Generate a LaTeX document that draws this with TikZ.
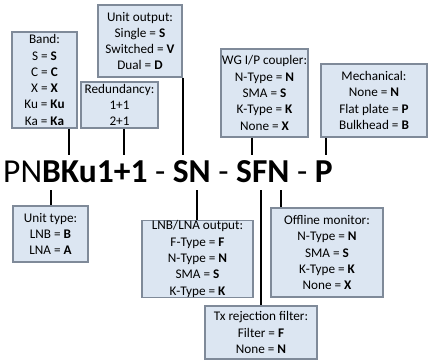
\documentclass[tikz,border=0pt]{standalone}
\usepackage{fontspec}
\setmainfont{Carlito}
\usetikzlibrary{positioning}
\definecolor{boxfill}{HTML}{DCE6F2}
\definecolor{boxline}{HTML}{7F8A99}

\begin{document}
\begin{tikzpicture}[
    x=1pt, y=-1pt,
    opt/.style={
        draw=boxline, fill=boxfill, line width=1.3pt, align=center, inner sep=0pt,
        font=\fontsize{13.2}{16.3}\selectfont
    },
    lead/.style={
        line width=2.4pt
    },
    code/.style={
        anchor=base west, inner sep=0pt, font=\fontsize{33.5}{36}\selectfont
    }
]
    \useasboundingbox (0,0) rectangle (428,361);

    % part number
    \node[code](pn) at (3,182){PN\textbf{BKu1+1} - \textbf{SN} - \textbf{SFN} - \textbf{P}};

    % option boxes above
    \node[opt,minimum width=65pt,minimum height=96pt](band) at (44.5,80){
        Band:\\ S = \textbf{S}\\ C = \textbf{C}\\ X = \textbf{X}\\ Ku = \textbf{Ku}\\ Ka = \textbf{Ka}};
    \node[opt,minimum width=77pt,minimum height=46pt](red) at (119.5,105){
        Redundancy:\\ 1+1\\ 2+1};
    \node[opt,minimum width=84pt,minimum height=72pt](uout) at (140,41){
        Unit output:\\ Single = \textbf{S}\\ Switched = \textbf{V}\\ Dual = \textbf{D}};
    \node[opt,minimum width=87pt,minimum height=88pt](wg) at (264.5,93){
        WG I/P coupler:\\ N-Type = \textbf{N}\\ SMA = \textbf{S}\\ K-Type = \textbf{K}\\ None = \textbf{X}};
    \node[opt,minimum width=106pt,minimum height=73pt](mech) at (374,100.5){
        Mechanical:\\ None = \textbf{N}\\ Flat plate = \textbf{P}\\ Bulkhead = \textbf{B}};

    % option boxes below
    \node[opt,minimum width=75pt,minimum height=56pt](utype) at (50.5,234){
        Unit type:\\ LNB = \textbf{B}\\ LNA = \textbf{A}};
    \node[opt,minimum width=111pt,minimum height=76pt](lnb) at (197.5,259){
        LNB/LNA output:\\ F-Type = \textbf{F}\\ N-Type = \textbf{N}\\ SMA = \textbf{S}\\ K-Type = \textbf{K}};
    \node[opt,minimum width=112pt,minimum height=89pt](offl) at (327,252.5){
        Offline monitor:\\ N-Type = \textbf{N}\\ SMA = \textbf{S}\\ K-Type = \textbf{K}\\ None = \textbf{X}};
    \node[opt,minimum width=112pt,minimum height=53pt](tx) at (261,332.5){
        Tx rejection filter:\\ Filter = \textbf{F}\\ None = \textbf{N}};

    % lead ends on the part number
    \coordinate (kBand) at (69,155);
    \coordinate (kRed) at (124,155);
    \coordinate (kUout) at (183,155);
    \coordinate (kWg) at (252,155);
    \coordinate (kMech) at (326,155);
    \coordinate (kUtype) at (51,190);
    \coordinate (kLnb) at (197,190);
    \coordinate (kTx) at (261,190);
    \coordinate (kOffl) at (281,190);

    \draw[lead] (band.south -| kBand) -- (kBand);
    \draw[lead] (red.south -| kRed) -- (kRed);
    \draw[lead] (uout.south -| kUout) -- (kUout);
    \draw[lead] (wg.south -| kWg) -- (kWg);
    \draw[lead] (mech.south -| kMech) -- (kMech);
    \draw[lead] (kUtype) -- (kUtype |- utype.north);
    \draw[lead] (kLnb) -- (kLnb |- lnb.north);
    \draw[lead] (kTx) -- (kTx |- tx.north);
    \draw[lead] (kOffl) -- (kOffl |- offl.north);

\end{tikzpicture}
\end{document}
